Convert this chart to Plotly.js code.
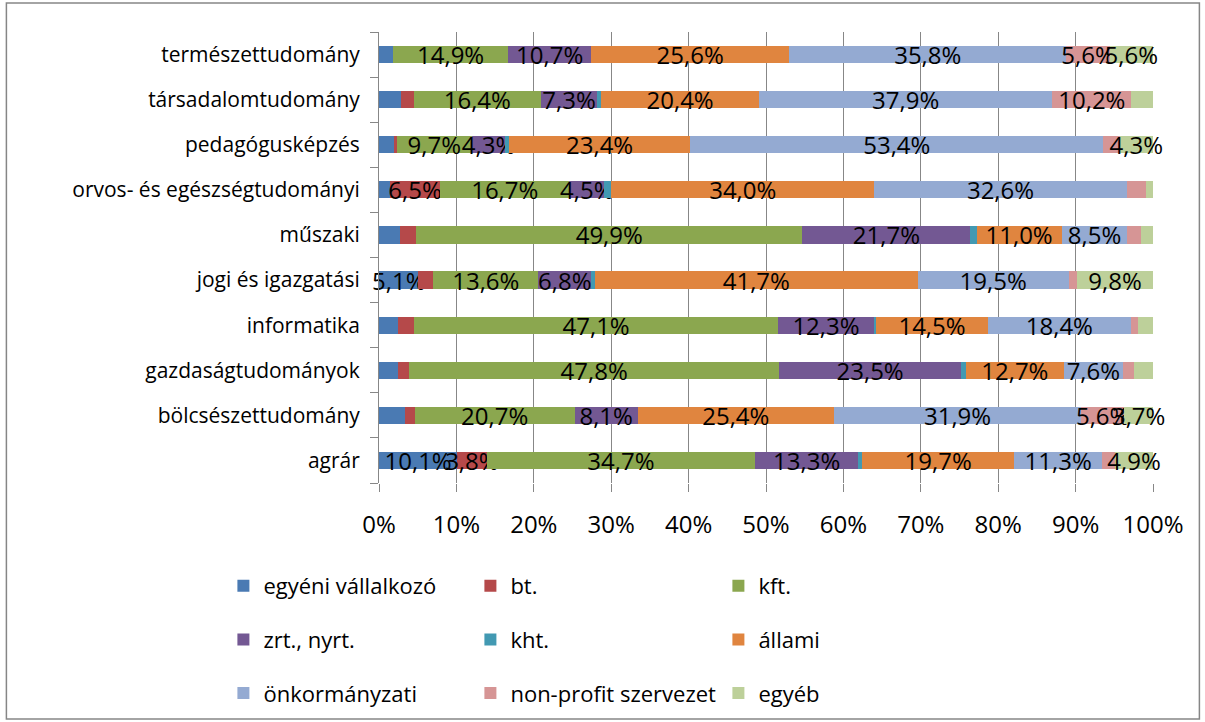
<!DOCTYPE html>
<html>
<head>
<meta charset="utf-8">
<script src="https://cdn.plot.ly/plotly-3.0.1.min.js"></script>
<style>
  body { margin: 0; background: #fff; }
  #chart { width: 1205px; height: 722px; }
</style>
</head>
<body>
<div id="chart"></div>
<script>
// kategóriák alulról felfelé (Plotly így rakja)
const categories = ['agrár', 'bölcsészettudomány', 'gazdaságtudományok', 'informatika', 'jogi és igazgatási',
  'műszaki', 'orvos- és egészségtudományi', 'pedagógusképzés', 'társadalomtudomány', 'természettudomány'];

const seriesNames = ['egyéni vállalkozó', 'bt.', 'kft.', 'zrt., nyrt.', 'kht.', 'állami',
  'önkormányzati', 'non-profit szervezet', 'egyéb'];

const egyeni = [10.1, 3.4, 2.4, 2.5, 5.1, 2.7, 1.4, 2.0, 2.9, 1.8];
const bt = [3.8, 1.2, 1.5, 2.0, 1.9, 2.1, 6.5, 0.3, 1.6, 0.0];
const kft = [34.7, 20.7, 47.8, 47.1, 13.6, 49.9, 16.7, 9.7, 16.4, 14.9];
const zrt = [13.3, 8.1, 23.5, 12.3, 6.8, 21.7, 4.5, 4.3, 7.3, 10.7];
const kht = [0.5, 0.0, 0.6, 0.3, 0.5, 0.8, 0.9, 0.5, 0.5, 0.0];
const allami = [19.7, 25.4, 12.7, 14.5, 41.7, 11.0, 34.0, 23.4, 20.4, 25.6];
const onkorm = [11.3, 31.9, 7.6, 18.4, 19.5, 8.5, 32.6, 53.4, 37.9, 35.8];
const nonprofit = [1.7, 5.6, 1.4, 1.0, 1.1, 1.8, 2.5, 2.1, 10.2, 5.6];
const egyeb = [4.9, 3.7, 2.5, 1.9, 9.8, 1.5, 0.9, 4.3, 2.8, 5.6];

const values = [egyeni, bt, kft, zrt, kht, allami, onkorm, nonprofit, egyeb];
const colors = ['#4A7AB3', '#B5494A', '#8BA74F', '#735893', '#4299B2', '#E0853F',
  '#94AAD2', '#D69595', '#BDD09A'];

const FONT = '"Open Sans", Lato, sans-serif';
const catSize = 21;
const legSize = 22;
const numSize = 24;

// plot terület pixelben
const plotL = 378.6, plotR = 1152.6, plotT = 32, plotB = 483;
const W = 1205, H = 722;
const pxX = (px) => (px - plotL) / (plotR - plotL);
const pxY = (py) => (plotB - py) / (plotB - plotT);

// címke csak a nagyobb szeleteken
const label = (v) => v >= 3.5 ? v.toFixed(1).replace('.', ',') + '%' : '';

// legend oszlopok: 0,3,6 / 1,4,7 / 2,5,8
const legendIds = ['legend', 'legend2', 'legend3'];

const data = values.map((vals, i) => ({
  type: 'bar',
  orientation: 'h',
  name: seriesNames[i],
  y: categories,
  x: vals,
  text: vals.map(label),
  textposition: 'inside',
  insidetextanchor: 'middle',
  constraintext: 'none',
  textangle: 0,
  cliponaxis: false,
  insidetextfont: { family: FONT, size: numSize, color: '#000' },
  marker: { color: colors[i], line: { width: 0 } },
  legend: legendIds[i % 3],
  legendgroup: 'g' + i,
  hoverinfo: 'name+x'
}));

const legendBase = {
  orientation: 'v',
  traceorder: 'grouped',
  tracegroupgap: 22,
  font: { family: FONT, size: legSize, color: '#000' },
  bgcolor: 'rgba(0,0,0,0)',
  xanchor: 'left',
  yanchor: 'top',
  y: pxY(565),
  itemwidth: 30
};

const layout = {
  width: W,
  height: H,
  margin: { l: plotL, r: W - plotR, t: plotT, b: H - plotB, autoexpand: false },
  paper_bgcolor: '#fff',
  plot_bgcolor: '#fff',
  barmode: 'stack',
  bargap: 0.62,
  font: { family: FONT, size: catSize, color: '#000' },
  showlegend: true,
  legend: Object.assign({}, legendBase, { x: pxX(223) }),
  legend2: Object.assign({}, legendBase, { x: pxX(470) }),
  legend3: Object.assign({}, legendBase, { x: pxX(718) }),
  xaxis: {
    range: [0, 100.0001],
    tickvals: [0, 10, 20, 30, 40, 50, 60, 70, 80, 90, 100],
    ticktext: ['0%', '10%', '20%', '30%', '40%', '50%', '60%', '70%', '80%', '90%', '100%'],
    showgrid: true,
    gridcolor: '#878787',
    gridwidth: 1,
    zeroline: false,
    showline: false,
    ticks: 'outside',
    ticklen: 8,
    tickcolor: '#878787',
    ticklabelstandoff: 12,
    tickfont: { family: FONT, size: numSize, color: '#000' },
    fixedrange: true
  },
  yaxis: {
    type: 'category',
    categoryorder: 'array',
    categoryarray: categories,
    showline: true,
    linecolor: '#878787',
    linewidth: 1,
    showgrid: false,
    ticks: 'outside',
    tickson: 'boundaries',
    ticklen: 8,
    tickcolor: '#878787',
    ticklabelstandoff: 14,
    tickfont: { family: FONT, size: catSize, color: '#000' },
    fixedrange: true
  },
  shapes: [{
    type: 'rect',
    xref: 'paper', yref: 'paper',
    x0: pxX(6), x1: pxX(1199),
    y0: pxY(719), y1: pxY(3),
    line: { color: '#868686', width: 1.5 },
    fillcolor: 'rgba(0,0,0,0)',
    layer: 'below'
  }]
};

Plotly.newPlot('chart', data, layout, { displayModeBar: false, staticPlot: true });
</script>
</body>
</html>
